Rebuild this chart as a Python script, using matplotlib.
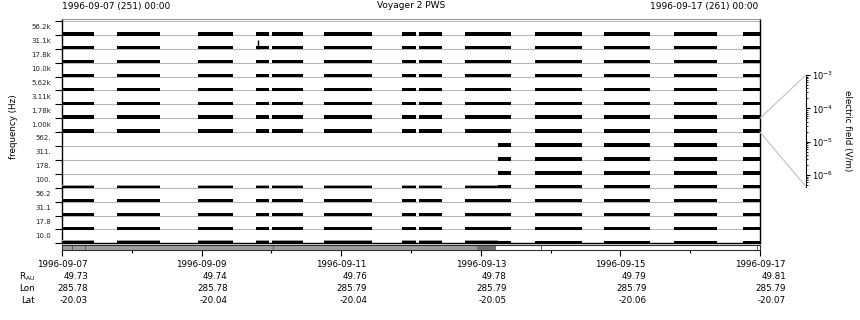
import matplotlib.pyplot as plt
from matplotlib.patches import ConnectionPatch
from matplotlib.ticker import LogLocator, NullFormatter
from matplotlib.transforms import blended_transform_factory, offset_copy

plt.rcParams['font.family'] = ['DejaVu Sans']
plt.rcParams['mathtext.default'] = 'regular'

# channel labels, bottom band first
freq_labels = ["10.0", "17.8", "31.1", "56.2", "100.", "178.", "311.", "562.",
               "1.00k", "1.78k", "3.11k", "5.62k", "10.0k", "17.8k", "31.1k", "56.2k"]

# data segments, days since 1996-09-07 00:00
segments = [(0.00, 0.46), (0.79, 1.40), (1.95, 2.45), (2.78, 2.97), (3.01, 3.45),
            (3.75, 4.44), (4.87, 5.07), (5.12, 5.44), (5.77, 6.43), (6.78, 7.45),
            (7.77, 8.42), (8.77, 9.38), (9.76, 10.00)]
mid_bands = [5, 6, 7]       # 178 - 562 Hz only present later
mid_start = 6.25
noisy_bands = [0, 4]        # bands with a weaker (gray) fringe before mid_start
spikes = [(2.81, 14, 0.6)]  # (day, band, height)

# coverage strip under the spectrogram
coverage = [(0.00, 5.94, "#a0a0a0"), (5.94, 6.22, "#707070")]
coverage_marks = [0.15, 0.33, 3.03, 6.86, 9.96]

# ephemeris rows at the labelled days
label_days = [0, 2, 4, 6, 8, 10]
date_labels = ["1996-09-07", "1996-09-09", "1996-09-11",
               "1996-09-13", "1996-09-15", "1996-09-17"]
r_au = ["49.73", "49.74", "49.76", "49.78", "49.79", "49.81"]
lon = ["285.78", "285.78", "285.79", "285.79", "285.79", "285.79"]
lat = ["-20.03", "-20.04", "-20.04", "-20.05", "-20.06", "-20.07"]

W, H = 860, 320
fig = plt.figure(figsize=(W / 100, H / 100), dpi=100)


def fx(px):
    return px / W


def fy(py):
    return 1 - py / H


# main spectrogram panel
ax = fig.add_axes([fx(62), fy(243.3), fx(760 - 62), (243.3 - 19) / H])
ax.set_xlim(0, 10)
ax.set_ylim(0, 16.14)

for k in range(1, 17):
    ax.axhline(k, color="#b8b8b8", lw=0.8, zorder=1)

for band in range(len(freq_labels)):
    if band in mid_bands:
        segs = [(max(s, mid_start), e) for s, e in segments if e > mid_start]
    else:
        segs = segments
    ax.broken_barh([(s, e - s) for s, e in segs], (band - 0.05, 0.25),
                   facecolor="black", edgecolor="none", zorder=3)
    if band in noisy_bands:
        early = [(s, min(e, mid_start) - s) for s, e in segs if s < mid_start]
        ax.broken_barh(early, (band + 0.14, 0.08),
                       facecolor="#9a9a9a", edgecolor="none", zorder=4)

for day, band, h in spikes:
    ax.vlines(day, band, band + h, color="black", lw=1, zorder=3)

ax.set_yticks(range(17))
ax.set_yticklabels([])
ax.set_yticks([k + 0.58 for k in range(16)], minor=True)
ax.set_yticklabels(freq_labels, minor=True, fontsize=5, color="#222222")
ax.tick_params(axis="y", which="major", length=5, width=0.8, direction="out")
ax.tick_params(axis="y", which="minor", length=0, pad=8)
ax.set_xticks([])
for side in ["left", "right", "bottom"]:
    ax.spines[side].set_color("black")
    ax.spines[side].set_linewidth(1)
ax.spines["top"].set_color("#999999")

fig.text(fx(14), fy(127), "frequency (Hz)", rotation=90, fontsize=6.3,
         ha="center", va="center")

# coverage strip with the time axis
ax2 = fig.add_axes([fx(62), fy(249.5), fx(760 - 62), 5 / H])
ax2.set_xlim(0, 10)
ax2.set_ylim(0, 1)
for s, e, c in coverage:
    ax2.axvspan(s, e, color=c, lw=0)
for m in coverage_marks:
    ax2.axvline(m, color="#505050", lw=0.6)
for sp in ax2.spines.values():
    sp.set_color("#303030")
    sp.set_linewidth(0.8)
ax2.set_yticks([])
ax2.set_xticks(range(0, 11, 2))
ax2.set_xticks(range(1, 10, 2), minor=True)
ax2.set_xticklabels([])
ax2.tick_params(axis="x", which="major", length=4, width=0.8)
ax2.tick_params(axis="x", which="minor", length=1.8, width=0.8)

trans = blended_transform_factory(ax2.transData, fig.transFigure)
trans_r = offset_copy(trans, fig=fig, x=26, units="dots")
for i, day in enumerate(label_days):
    fig.text(day, fy(264.5), date_labels[i], transform=trans, fontsize=6.3,
             ha="center", va="center")
    for row, vals in zip([276.5, 288.5, 300.7], [r_au, lon, lat]):
        fig.text(day, fy(row), vals[i], transform=trans_r, fontsize=6.3,
                 ha="right", va="center")

for row, name in zip([276.5, 288.5, 300.7], ["R$_{AU}$", "Lon", "Lat"]):
    fig.text(fx(35), fy(row), name, fontsize=6.3, ha="right", va="center")

# header
fig.text(fx(62), fy(6), "1996-09-07 (251) 00:00", fontsize=6.5, ha="left", va="center")
fig.text(fx(758), fy(6), "1996-09-17 (261) 00:00", fontsize=6.5, ha="right", va="center")
fig.text(fx(411), fy(6), "Voyager 2 PWS", fontsize=6.5, ha="center", va="center")

# electric field scale
cax = fig.add_axes([fx(800), fy(186.7), fx(6), (186.7 - 75) / H])
cax.set_yscale("log")
cax.set_ylim(10 ** -6.35, 1e-3)
cax.patch.set_visible(False)
for side in ["left", "top", "bottom"]:
    cax.spines[side].set_visible(False)
cax.spines["right"].set_linewidth(0.8)
cax.set_xticks([])
cax.yaxis.tick_right()
cax.set_yticks([1e-6, 1e-5, 1e-4, 1e-3])
cax.set_yticklabels(["$10^{-6}$", "$10^{-5}$", "$10^{-4}$", "$10^{-3}$"], fontsize=6)
cax.yaxis.set_minor_locator(LogLocator(base=10, subs=range(2, 10)))
cax.yaxis.set_minor_formatter(NullFormatter())
cax.tick_params(axis="y", which="major", length=3, width=0.8, pad=1.5)
cax.tick_params(axis="y", which="minor", length=1.5, width=0.6)

fig.text(fx(847), fy(131), "electric field (V/m)", rotation=-90, fontsize=6.3,
         ha="center", va="center")

for yA, yB in [(9, 1), (8, 0)]:
    con = ConnectionPatch(xyA=(10, yA), coordsA=ax.transData,
                          xyB=(1, yB), coordsB=cax.transAxes,
                          color="#c0c0c0", lw=0.8)
    fig.add_artist(con)

fig.savefig("out.png", dpi=100)
